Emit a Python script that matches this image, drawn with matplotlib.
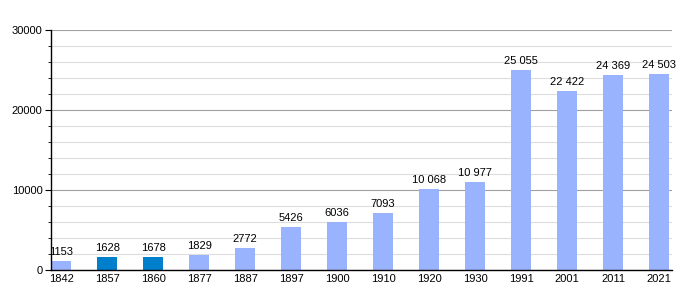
import matplotlib.pyplot as plt
from matplotlib.ticker import MultipleLocator

plt.rcParams["font.family"] = ["Liberation Sans", "DejaVu Sans"]

years = ["1842", "1857", "1860", "1877", "1887", "1897", "1900",
         "1910", "1920", "1930", "1991", "2001", "2011", "2021"]
population = [1153, 1628, 1678, 1829, 2772, 5426, 6036,
              7093, 10068, 10977, 25055, 22422, 24369, 24503]
labels = ["1153", "1628", "1678", "1829", "2772", "5426", "6036",
          "7093", "10 068", "10 977", "25 055", "22 422", "24 369", "24 503"]
highlight = ["1857", "1860"]

light = "#99b3ff"
dark = "#0080cc"

fig = plt.figure(figsize=(7, 3), dpi=100)
ax = fig.add_axes([51 / 700, 30 / 300, 621 / 700, 240 / 300])

x = list(range(len(years)))
colors = [dark if y in highlight else light for y in years]
ax.bar(x, population, width=0.435, color=colors, zorder=2)

for xi, v, lab in zip(x, population, labels):
    ax.text(xi, v + 500, lab, ha="center", va="bottom", fontsize=8, zorder=3)

ax.set_xlim(-0.22, 13.28)
ax.set_ylim(0, 30000)
ax.set_xticks(x)
ax.set_xticklabels(years, fontsize=8)
ax.yaxis.set_major_locator(MultipleLocator(10000))
ax.yaxis.set_minor_locator(MultipleLocator(2000))
ax.tick_params(axis="y", which="major", labelsize=8, length=4, pad=2)
ax.tick_params(axis="y", which="minor", length=2)
ax.tick_params(axis="x", length=0, pad=3)

ax.grid(axis="y", which="major", color="#a0a0a0", lw=0.8, zorder=0)
ax.grid(axis="y", which="minor", color="#dddddd", lw=0.8, zorder=0)
for s in ["top", "right"]:
    ax.spines[s].set_visible(False)
ax.spines["left"].set_linewidth(1)
ax.spines["bottom"].set_linewidth(1)

fig.savefig("out.png", dpi=100)
